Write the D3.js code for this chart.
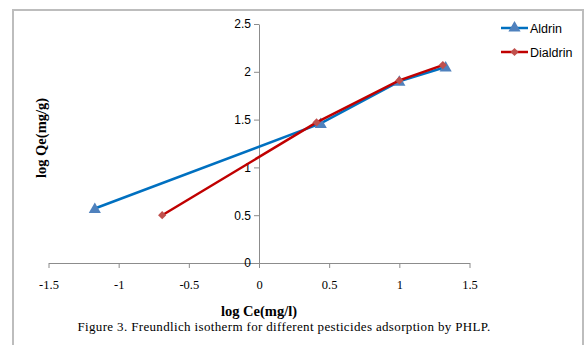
<!DOCTYPE html>
<html>
<head>
<meta charset="utf-8">
<script src="https://cdn.jsdelivr.net/npm/d3@7"></script>
<style>
  body { margin: 0; background: #fff; }
  svg { display: block; }
</style>
</head>
<body>
<div id="chart"></div>
<script>
// data
const aldrinX = [-1.17, 0.44, 1.0, 1.33];
const aldrinY = [0.57, 1.46, 1.90, 2.05];
const dialdrinX = [-0.69, 0.41, 1.0, 1.31];
const dialdrinY = [0.50, 1.47, 1.91, 2.07];
const xTicks = [-1.5, -1, -0.5, 0, 0.5, 1, 1.5];
const yTicks = [0, 0.5, 1, 1.5, 2, 2.5];
const seriesNames = ['Aldrin', 'Dialdrin'];

const W = 586, H = 345;
const svg = d3.select('#chart').append('svg')
  .attr('width', W)
  .attr('height', H);

// outer frame (top, left, right only)
svg.append('path')
  .attr('d', 'M13,345 L13,10 L583,10 L583,345')
  .attr('fill', 'none')
  .attr('stroke', '#bdbdbd')
  .attr('stroke-width', 2);

const x = d3.scaleLinear().domain([-1.5, 1.5]).range([48.5, 469.5]);
const y = d3.scaleLinear().domain([0, 2.5]).range([263, 24]);

// x axis at y = 0
const gx = svg.append('g')
  .attr('transform', 'translate(0,' + y(0) + ')')
  .call(d3.axisBottom(x).tickValues(xTicks).tickSize(5).tickSizeOuter(0)
    .tickFormat(d3.format('')));
gx.select('.domain').attr('stroke', '#8c8c8c');
gx.selectAll('.tick line').attr('stroke', '#8c8c8c');
gx.selectAll('.tick text')
  .attr('y', 17)
  .attr('font-family', 'Liberation Serif, serif')
  .attr('font-size', 12.5)
  .attr('fill', '#000')
  .text(d => d3.format('')(d).replace('−', '-'));

// y axis at x = 0
const gy = svg.append('g')
  .attr('transform', 'translate(' + x(0) + ',0)')
  .call(d3.axisLeft(y).tickValues(yTicks).tickSize(5).tickSizeOuter(0)
    .tickFormat(d3.format('')));
gy.select('.domain').attr('stroke', '#8c8c8c');
gy.selectAll('.tick line').attr('stroke', '#8c8c8c');
gy.selectAll('.tick text')
  .attr('x', -8)
  .attr('font-family', 'Liberation Sans, sans-serif')
  .attr('font-size', 12)
  .attr('fill', '#000');

const line = d3.line().x(d => x(d[0])).y(d => y(d[1]));
const aldrin = aldrinX.map((v, i) => [v, aldrinY[i]]);
const dialdrin = dialdrinX.map((v, i) => [v, dialdrinY[i]]);

const tri = d3.symbol().type(d3.symbolTriangle).size(64);
const dia = d3.symbol().type(d3.symbolSquare).size(34);

svg.append('path').datum(aldrin)
  .attr('fill', 'none').attr('stroke', '#0070c0').attr('stroke-width', 2.5)
  .attr('d', line);
svg.selectAll('.tri').data(aldrin).enter().append('path')
  .attr('class', 'tri')
  .attr('transform', d => 'translate(' + x(d[0]) + ',' + (y(d[1]) + 1) + ')')
  .attr('d', tri)
  .attr('fill', '#4f81bd');

svg.append('path').datum(dialdrin)
  .attr('fill', 'none').attr('stroke', '#c00000').attr('stroke-width', 2.5)
  .attr('d', line);
svg.selectAll('.dia').data(dialdrin).enter().append('path')
  .attr('class', 'dia')
  .attr('transform', d => 'translate(' + x(d[0]) + ',' + y(d[1]) + ') rotate(45)')
  .attr('d', dia)
  .attr('fill', '#c0504d');

// legend
const legColors = ['#0070c0', '#c00000'];
const legFills = ['#4f81bd', '#c0504d'];
seriesNames.forEach((name, i) => {
  const ly = 28 + i * 24;
  svg.append('line')
    .attr('x1', 501).attr('x2', 528).attr('y1', ly).attr('y2', ly)
    .attr('stroke', legColors[i]).attr('stroke-width', 2.5);
  svg.append('path')
    .attr('transform', 'translate(514.5,' + ly + ')' + (i === 1 ? ' rotate(45)' : ''))
    .attr('d', i === 0 ? tri : dia)
    .attr('fill', legFills[i]);
  svg.append('text')
    .attr('x', 530).attr('y', ly + 4.5)
    .attr('font-family', 'Liberation Sans, sans-serif')
    .attr('font-size', 12.5)
    .attr('fill', '#000')
    .text(name);
});

// axis titles
svg.append('text')
  .attr('transform', 'translate(46,138) rotate(-90)')
  .attr('text-anchor', 'middle')
  .attr('font-family', 'Liberation Serif, serif')
  .attr('font-weight', 'bold')
  .attr('font-size', 14.5)
  .text('log Qe(mg/g)');

svg.append('text')
  .attr('x', 259).attr('y', 316)
  .attr('text-anchor', 'middle')
  .attr('font-family', 'Liberation Serif, serif')
  .attr('font-weight', 'bold')
  .attr('font-size', 14.5)
  .text('log Ce(mg/l)');

// caption
svg.append('text')
  .attr('x', 284).attr('y', 331)
  .attr('text-anchor', 'middle')
  .attr('font-family', 'Liberation Serif, serif')
  .attr('font-size', 13)
  .attr('letter-spacing', 0.35)
  .text('Figure 3. Freundlich isotherm for different pesticides adsorption by PHLP.');
</script>
</body>
</html>
